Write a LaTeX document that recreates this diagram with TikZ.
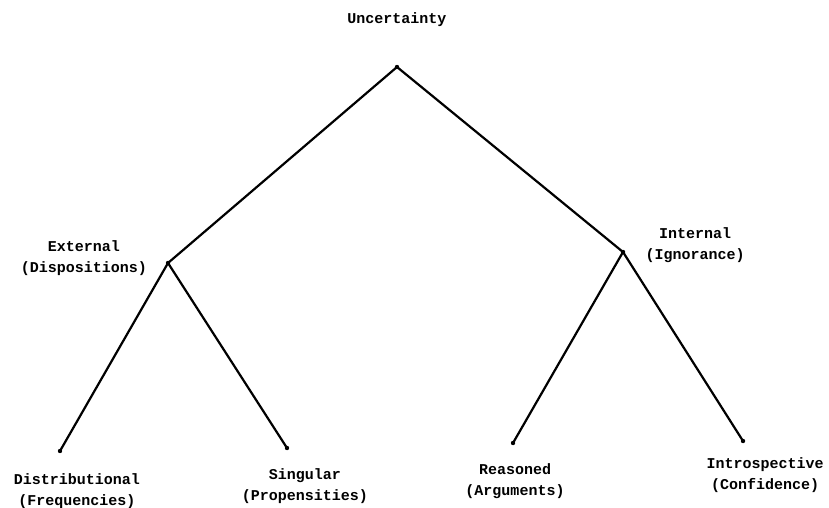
\documentclass[tikz,border=0pt]{standalone}
\usepackage{fontspec}
\setmonofont{Liberation Mono}
\usetikzlibrary{positioning}
\tikzset{>=latex}
\tikzset{branch/.style={line width=2.2pt, line cap=round}}
\tikzset{lbl/.style={font=\ttfamily\bfseries\fontsize{15}{20.5}\selectfont, align=center, inner sep=0pt}}

\begin{document}
\begin{tikzpicture}[x=1pt, y=-1pt]
  \useasboundingbox (0,0) rectangle (829,508);%
  % branching points
  \coordinate (unc) at (397,67);%
  \coordinate (ext) at (168,263);%
  \coordinate (int) at (623,252);%
  \coordinate (dis) at (60,451);%
  \coordinate (sin) at (287,448);%
  \coordinate (rea) at (513,443);%
  \coordinate (intro) at (743,441);%
  % labels
  \node[lbl] (uncl) at (397,20) {Uncertainty};%
  \node[lbl] (extl) at (84,258) {External\\(Dispositions)};%
  \node[lbl] (intl) at (695,245) {Internal\\(Ignorance)};%
  \node[lbl] (disl) at (77,491) {Distributional\\(Frequencies)};%
  \node[lbl] (sinl) at (305,486) {Singular\\(Propensities)};%
  \node[lbl] (real) at (515,481) {Reasoned\\(Arguments)};%
  \node[lbl] (introl) at (765,475) {Introspective\\(Confidence)};%
  % the tree
  \draw[branch] (ext) -- (unc) -- (int);%
  \draw[branch] (dis) -- (ext) -- (sin);%
  \draw[branch] (rea) -- (int) -- (intro);%
  \foreach \v in {unc,ext,int,dis,sin,rea,intro}
    \fill (\v) circle (2.2pt);%
\end{tikzpicture}
\end{document}
